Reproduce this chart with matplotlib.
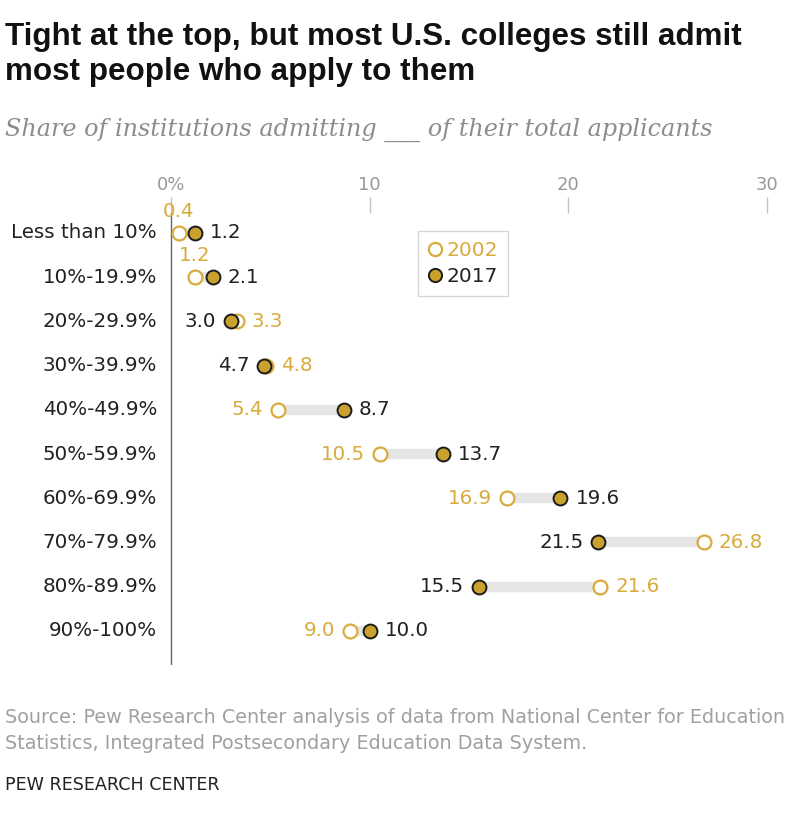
import matplotlib
matplotlib.use("Agg")
import matplotlib.pyplot as plt
from matplotlib.lines import Line2D

categories = ["Less than 10%", "10%-19.9%", "20%-29.9%", "30%-39.9%", "40%-49.9%",
              "50%-59.9%", "60%-69.9%", "70%-79.9%", "80%-89.9%", "90%-100%"]
share_2002 = [0.4, 1.2, 3.3, 4.8, 5.4, 10.5, 16.9, 26.8, 21.6, 9.0]
share_2017 = [1.2, 2.1, 3.0, 4.7, 8.7, 13.7, 19.6, 21.5, 15.5, 10.0]
x_ticks = [0, 10, 20, 30]
x_ticklabels = ["0%", "10", "20", "30"]

GOLD = "#d8ab3c"
GOLD_FILL = "#c9a12c"
DARK = "#222222"
GRAY = "#999999"

plt.rcParams["font.family"] = ["DejaVu Sans"]

fig = plt.figure(figsize=(8, 8.17), dpi=100)

fig.text(0.006, 0.973, "Tight at the top, but most U.S. colleges still admit\nmost people who apply to them",
         fontsize=22.6, fontweight="bold", family=["Liberation Sans", "DejaVu Sans"],
         color="#111111", va="top", ha="left", linespacing=1.2)
fig.text(0.006, 0.841, "Share of institutions admitting ___ of their total applicants",
         fontsize=17.2, style="italic", family=["DejaVu Serif"],
         color="#8c8c8c", va="center", ha="left")

# plot area: 0 at x=171px, rows from y=233px down
ax = fig.add_axes([0, (817 - 665) / 817, 1, (665 - 213) / 817])
ax.set_xlim(-8.6, 31.65)
ax.set_ylim(9.77, -0.45)
for s in ax.spines.values():
    s.set_visible(False)
ax.xaxis.tick_top()
ax.set_xticks(x_ticks)
ax.set_xticklabels(x_ticklabels)
ax.tick_params(axis="x", length=11.5, width=1, color="#c4c4c4", labelcolor=GRAY,
               labelsize=13, pad=2)
ax.set_yticks([])
ax.axvline(0, color="#666666", lw=1, zorder=1)

rows = range(len(categories))
for i in rows:
    a, b = share_2002[i], share_2017[i]
    ax.plot([a, b], [i, i], color="#e6e6e6", lw=7.5, solid_capstyle="butt", zorder=2)
    ax.text(-0.7, i, categories[i], ha="right", va="center", fontsize=14.3, color=DARK)

ax.plot(share_2002, rows, "o", ms=10, mfc="white", mec=GOLD, mew=1.6, zorder=3, ls="none")
ax.plot(share_2017, rows, "o", ms=10, mfc=GOLD_FILL, mec="#1a1a1a", mew=1.4, zorder=4, ls="none")

off = 0.75
fs = 14.3
for i in rows:
    a, b = share_2002[i], share_2017[i]
    if i < 2:
        # too tight near the axis, 2002 label goes above
        ax.text(a, i - 0.48, f"{a:.1f}", ha="center", va="center", fontsize=fs, color=GOLD)
        ax.text(b + off, i, f"{b:.1f}", ha="left", va="center", fontsize=fs, color=DARK)
    elif a < b:
        ax.text(a - off, i, f"{a:.1f}", ha="right", va="center", fontsize=fs, color=GOLD)
        ax.text(b + off, i, f"{b:.1f}", ha="left", va="center", fontsize=fs, color=DARK)
    else:
        ax.text(b - off, i, f"{b:.1f}", ha="right", va="center", fontsize=fs, color=DARK)
        ax.text(a + off, i, f"{a:.1f}", ha="left", va="center", fontsize=fs, color=GOLD)

handles = [
    Line2D([], [], marker="o", ls="none", ms=9.5, mfc="white", mec=GOLD, mew=1.6),
    Line2D([], [], marker="o", ls="none", ms=9.5, mfc=GOLD_FILL, mec="#1a1a1a", mew=1.4),
]
leg = ax.legend(handles, ["2002", "2017"], loc="upper left",
                bbox_to_anchor=(418 / 800, 1 - 231 / 817), bbox_transform=fig.transFigure,
                borderaxespad=0, fancybox=False, edgecolor="#cccccc", fontsize=14.5,
                handlelength=0.7, handletextpad=0.2, labelspacing=0.35, borderpad=0.5,
                labelcolor=[GOLD, DARK])
leg.get_frame().set_linewidth(1)

fig.text(0.006, 0.106, "Source: Pew Research Center analysis of data from National Center for Education\n"
         "Statistics, Integrated Postsecondary Education Data System.",
         fontsize=13.8, color="#a0a0a0", va="center", ha="left", linespacing=1.45)
fig.text(0.006, 0.039, "PEW RESEARCH CENTER", fontsize=12.6, color="#222222", va="center", ha="left")

fig.savefig("out.png", dpi=100)
